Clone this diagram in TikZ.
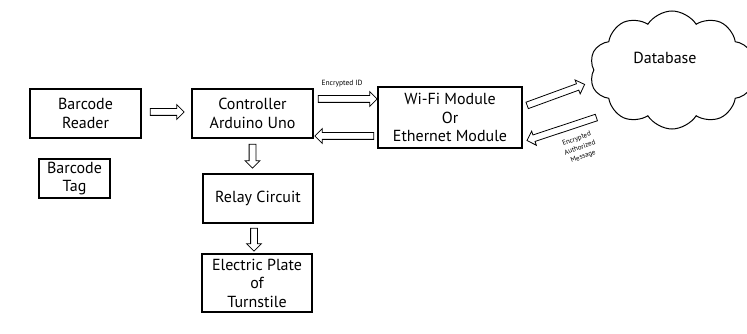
\documentclass[tikz,border=0pt]{standalone}
\usepackage{fontspec}
\setmainfont{PT Sans}
\usetikzlibrary{shapes.arrows,shapes.symbols,calc}

\tikzset{
  blk/.style={draw, line width=1.1pt, align=center, inner sep=0pt, font=\fontsize{16}{18.5}\selectfont},
  harrow/.style={single arrow, draw, line width=0.8pt, inner xsep=0pt, inner ysep=3pt,
    single arrow head extend=4pt, single arrow tip angle=90, anchor=center},
  tinytxt/.style={font=\fontsize{7.5}{8.5}\selectfont, align=center, inner sep=0pt}
}
% hollow arrow from one point to another
\newcommand{\hollowarrow}[2]{\path let \p1=($#2-#1$), \n1={atan2(\y1,\x1)}, \n2={veclen(\x1,\y1)} in
  node[harrow, minimum height=\n2, rotate=\n1] at ($#1!0.5!#2$) {};}

\begin{document}
\begin{tikzpicture}[x=1pt, y=-1pt]
    \useasboundingbox (0,0) rectangle (747,334);
    \clip (0,0) rectangle (747,334);
    % blocks
    \node[blk, minimum width=111pt, minimum height=49pt] (reader) at (85.5,113.5) {Barcode\\Reader};
    \node[blk, minimum width=121pt, minimum height=49pt] (ctrl) at (252.5,113.5) {Controller\\Arduino Uno};
    \node[blk, minimum width=71pt, minimum height=39pt] (tag) at (74.5,178.5) {Barcode\\Tag};
    \node[blk, minimum width=110pt, minimum height=49pt] (relay) at (258,198.5) {Relay Circuit};
    \node[blk, minimum width=110pt, minimum height=58pt] (plate) at (257,283) {Electric Plate\\of\\Turnstile};
    \node[blk, minimum width=144pt, minimum height=61pt] (wifi) at (450,117.5) {Wi-Fi Module\\Or\\Ethernet Module};
    \node[cloud, draw, line width=1pt, cloud puffs=10, cloud puff arc=115, aspect=1.4,
      minimum width=165pt, minimum height=118pt] (db) at (672,70) {};
    \node[font=\fontsize{16}{18}\selectfont] (dbtxt) at ($(db.center)+(-7,-12)$) {Database};
    % arrows
    \hollowarrow{($(reader.east)+(7,-1.5)$)}{($(ctrl.west)+(-9,-1.5)$)}
    \hollowarrow{($(ctrl.east)+(3,-14.5)$)}{($(wifi.west)+(-2,-18.5)$)}
    \hollowarrow{($(wifi.west)+(-2,18.5)$)}{($(ctrl.east)+(3,22.5)$)}
    \hollowarrow{($(ctrl.south)+(0,4)$)}{($(relay.north)+(-5.5,-7)$)}
    \hollowarrow{($(relay.south)+(-4,3)$)}{($(plate.north)+(-3,-4)$)}
    \hollowarrow{($(wifi.east)+(3,-11.5)$)}{($(db.center)+(-89,15)$)}
    \hollowarrow{($(db.center)+(-74,47)$)}{($(wifi.east)+(6,22.5)$)}
    % labels
    \node[tinytxt] (encid) at (342,84) {Encrypted ID};
    \node[tinytxt, rotate=20, font=\fontsize{7}{9.5}\selectfont] (encmsg) at (580,148) {Encrypted\\Authorized\\Message};
\end{tikzpicture}
\end{document}
